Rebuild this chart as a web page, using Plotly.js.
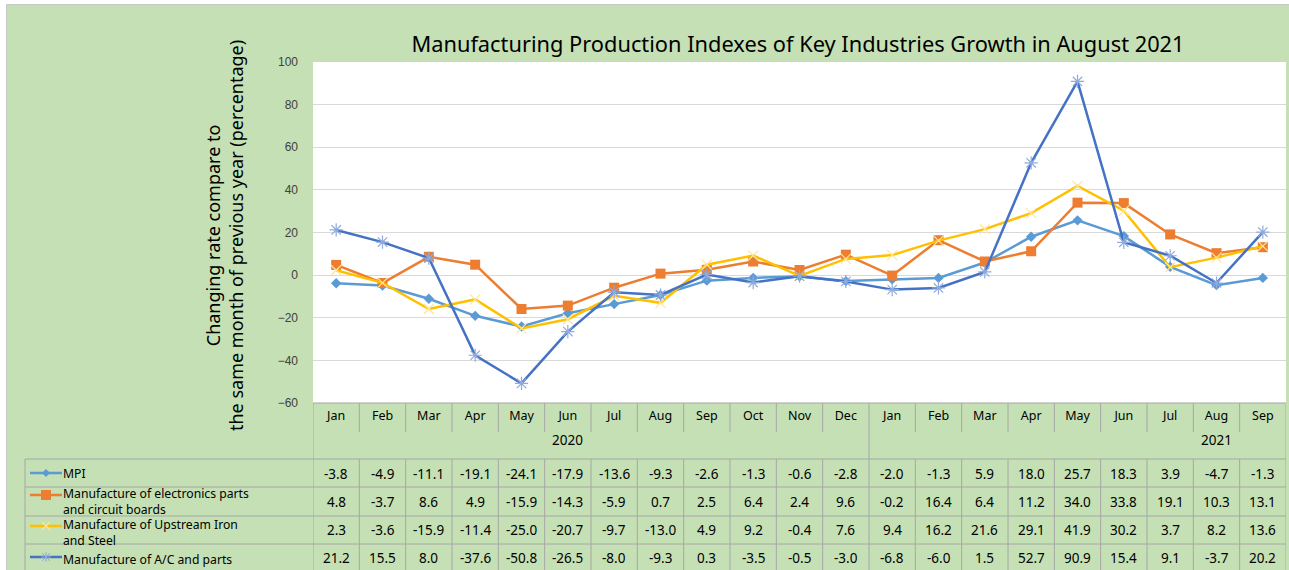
<!DOCTYPE html>
<html><head><meta charset="utf-8">
<script src="https://cdn.plot.ly/plotly-3.0.1.min.js"></script>
<style>html,body{margin:0;padding:0;background:#fff}</style>
</head><body><div id="chart" style="width:1289px;height:570px"></div>
<script>
const months = ['Jan','Feb','Mar','Apr','May','Jun','Jul','Aug','Sep','Oct','Nov','Dec','Jan','Feb','Mar','Apr','May','Jun','Jul','Aug','Sep'];
const years = ['2020','2021'];
const seriesLabels = ['MPI', 'Manufacture of electronics parts<br>and circuit boards', 'Manufacture of Upstream Iron<br>and Steel', 'Manufacture of A/C and parts'];
const mpi  = [-3.8,-4.9,-11.1,-19.1,-24.1,-17.9,-13.6,-9.3,-2.6,-1.3,-0.6,-2.8,-2.0,-1.3,5.9,18.0,25.7,18.3,3.9,-4.7,-1.3];
const elec = [4.8,-3.7,8.6,4.9,-15.9,-14.3,-5.9,0.7,2.5,6.4,2.4,9.6,-0.2,16.4,6.4,11.2,34.0,33.8,19.1,10.3,13.1];
const iron = [2.3,-3.6,-15.9,-11.4,-25.0,-20.7,-9.7,-13.0,4.9,9.2,-0.4,7.6,9.4,16.2,21.6,29.1,41.9,30.2,3.7,8.2,13.6];
const ac   = [21.2,15.5,8.0,-37.6,-50.8,-26.5,-8.0,-9.3,0.3,-3.5,-0.5,-3.0,-6.8,-6.0,1.5,52.7,90.9,15.4,9.1,-3.7,20.2];

const W=1289, H=570, L=313, R=3, T=62, B=167;
const PW=W-L-R, PH=H-T-B;
const px = X => (X-L)/PW;
const py = Y => (H-B-Y)/PH;
const xs = months.map((_,i)=>i);
const n = months.length;

const series = [mpi, elec, iron, ac];
const lineColors = ['#5b9bd5','#ed7d31','#ffc000','#4472c4'];
const markers = [
  {symbol:'diamond', size:8, color:'#5b9bd5'},
  {symbol:'square', size:10, color:'#ed7d31'},
  {symbol:'x-thin-open', size:10, color:'#ffe699', line:{color:'#ffe699', width:1.2}},
  {symbol:'asterisk-open', size:11, color:'#8faadc', line:{color:'#8faadc', width:1.2}}
];
const traces = series.map((vals,k)=>({
  type:'scatter', mode:'lines+markers', x:xs, y:vals,
  name: seriesLabels[k].replace('<br>',' '),
  line:{color:lineColors[k], width:2.5}, marker:markers[k], cliponaxis:false
}));

const gridC = '#a6a6a6';
const shapes = [];
shapes.push({type:'rect', xref:'paper', yref:'paper', x0:px(0), x1:px(W), y0:py(0), y1:py(4.5), fillcolor:'#ffffff', line:{width:0}});
shapes.push({type:'rect', xref:'paper', yref:'paper', x0:px(0), x1:px(6.5), y0:py(0), y1:py(H), fillcolor:'#ffffff', line:{width:0}});
shapes.push({type:'line', xref:'paper', yref:'paper', x0:px(6.5), x1:px(W), y0:py(4.5), y1:py(4.5), line:{color:'#c8c8c8', width:1}});
shapes.push({type:'line', xref:'paper', yref:'paper', x0:px(6.5), x1:px(6.5), y0:py(4.5), y1:py(H), line:{color:'#c8c8c8', width:1}});

const rowLines = [459, 487, 516, 544];
rowLines.forEach(Y=>shapes.push({type:'line', xref:'paper', yref:'paper', x0:px(25), x1:px(L+PW), y0:py(Y), y1:py(Y), line:{color:gridC, width:1}}));
shapes.push({type:'line', xref:'paper', yref:'paper', x0:0, x1:1, y0:0, y1:0, line:{color:gridC, width:1}});
shapes.push({type:'line', xref:'paper', yref:'paper', x0:px(25), x1:px(25), y0:py(459), y1:py(572), line:{color:gridC, width:1}});
for (let i=0;i<=n;i++){
  const full = (i===0 || i===12 || i===n);
  shapes.push({type:'line', xref:'x', yref:'paper', x0:i-0.5, x1:i-0.5, y0:py(403), y1:py(full?572:432), line:{color:gridC, width:1}});
  if(!full) shapes.push({type:'line', xref:'x', yref:'paper', x0:i-0.5, x1:i-0.5, y0:py(459), y1:py(572), line:{color:gridC, width:1}});
}

const keyY = [473, 495, 526, 557];
const X0=30, X1=62, XM=46;
keyY.forEach((Y,k)=>{
  shapes.push({type:'line', xref:'paper', yref:'paper', x0:px(X0), x1:px(X1), y0:py(Y), y1:py(Y), line:{color:lineColors[k], width:2.5}});
});
shapes.push({type:'path', xref:'paper', yref:'paper', path:`M ${px(XM-4)} ${py(keyY[0])} L ${px(XM)} ${py(keyY[0]-4)} L ${px(XM+4)} ${py(keyY[0])} L ${px(XM)} ${py(keyY[0]+4)} Z`, fillcolor:'#5b9bd5', line:{width:0}});
shapes.push({type:'rect', xref:'paper', yref:'paper', x0:px(XM-5), x1:px(XM+5), y0:py(keyY[1]-5), y1:py(keyY[1]+5), fillcolor:'#ed7d31', line:{width:0}});
shapes.push({type:'path', xref:'paper', yref:'paper', path:`M ${px(XM-4)} ${py(keyY[2]-4)} L ${px(XM+4)} ${py(keyY[2]+4)} M ${px(XM-4)} ${py(keyY[2]+4)} L ${px(XM+4)} ${py(keyY[2]-4)}`, line:{color:'#ffe699', width:1.2}});
const a=keyY[3];
shapes.push({type:'path', xref:'paper', yref:'paper', path:`M ${px(XM-5)} ${py(a)} L ${px(XM+5)} ${py(a)} M ${px(XM)} ${py(a-5)} L ${px(XM)} ${py(a+5)} M ${px(XM-4)} ${py(a-4)} L ${px(XM+4)} ${py(a+4)} M ${px(XM-4)} ${py(a+4)} L ${px(XM+4)} ${py(a-4)}`, line:{color:'#8faadc', width:1}});

const annFont = {family:'Noto Sans, DejaVu Sans, sans-serif', size:13.5, color:'#000'};
const annotations = [];
const rowCenters = [474, 501.5, 530, 558];
series.forEach((vals,k)=>{
  vals.forEach((v,i)=>annotations.push({x:i, xref:'x', y:py(rowCenters[k]), yref:'paper', text:v.toFixed(1), showarrow:false, font:annFont, xanchor:'center', yanchor:'middle'}));
});
const labelCenterY = [473, 501, 532, 559];
seriesLabels.forEach((t,k)=>annotations.push({x:px(62), xref:'paper', y:py(labelCenterY[k]), yref:'paper', text:t, align:'left', showarrow:false, xanchor:'left', yanchor:'middle', borderpad:0, font:{family:'Noto Sans, sans-serif', size:12.2, color:'#000'}}));
annotations.push({x:5, xref:'x', y:py(440), yref:'paper', text:years[0], showarrow:false, font:annFont, yanchor:'middle'});
annotations.push({x:19, xref:'x', y:py(440), yref:'paper', text:years[1], showarrow:false, font:annFont, yanchor:'middle'});
annotations.push({x:px(224), xref:'paper', y:py(236), yref:'paper', textangle:-90, text:'Changing rate compare to<br>the same month of previous year (percentage)', showarrow:false, xanchor:'center', yanchor:'middle', font:{family:'Noto Sans, sans-serif', size:18, color:'#000'}});

const layout = {
  width:W, height:H,
  margin:{l:L, r:R, t:T, b:B, pad:0},
  paper_bgcolor:'#c5e0b4', plot_bgcolor:'#ffffff',
  showlegend:false,
  title:{text:'Manufacturing Production Indexes of Key Industries Growth in August 2021', x:798/W, xanchor:'center', y:1-44/H, yanchor:'middle', yref:'container', font:{family:'Noto Sans, sans-serif', size:21.8, color:'#000'}},
  xaxis:{range:[-0.5, n-0.5], tickvals:xs, ticktext:months, showgrid:false, zeroline:false, showline:false, ticks:'', tickfont:{family:'Noto Sans, sans-serif', size:12.5, color:'#000'}, ticklabelstandoff:3, fixedrange:true},
  yaxis:{range:[-60,100], dtick:20, tick0:0, showgrid:true, gridcolor:'#d9d9d9', gridwidth:1, zeroline:false, showline:false, ticks:'', tickfont:{family:'Liberation Sans, Arial, sans-serif', size:12, color:'#404040'}, ticklabelstandoff:14},
  shapes, annotations
};
Plotly.newPlot('chart', traces, layout, {staticPlot:true, displayModeBar:false});
</script></body></html>
